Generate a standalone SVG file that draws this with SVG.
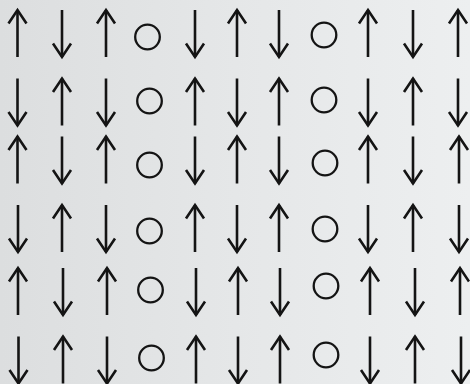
<svg xmlns="http://www.w3.org/2000/svg" xmlns:xlink="http://www.w3.org/1999/xlink" width="470" height="384" viewBox="0 0 470 384">
<defs>
<linearGradient id="bg" x1="0" y1="0" x2="1" y2="0">
<stop offset="0" stop-color="#dcdedf"/>
<stop offset="0.5" stop-color="#e5e7e8"/>
<stop offset="1" stop-color="#edeff0"/>
</linearGradient>
<g id="up"><line x1="0" y1="-23.5" x2="0" y2="23.5"/><polyline points="-9,-10 0,-23.5 9,-10"/></g>
<g id="dn"><line x1="0" y1="-23.5" x2="0" y2="23.5"/><polyline points="-9,10 0,23.5 9,10"/></g>
</defs>
<style>
.s{fill:none;stroke:#141414;stroke-width:2.6;stroke-linecap:butt;stroke-linejoin:miter}
.c{fill:none;stroke:#141414;stroke-width:2.3}
</style>
<rect width="470" height="384" fill="url(#bg)"/>
<g class="s">
<g id="r1">
<use id="r1c1" href="#up" x="17.5" y="33.5"/>
<use id="r1c2" href="#dn" x="62" y="33.5"/>
<use id="r1c3" href="#up" x="106" y="33.5"/>
<circle id="r1c4" class="c" cx="147.5" cy="37" r="12.3"/>
<use id="r1c5" href="#dn" x="195" y="33.5"/>
<use id="r1c6" href="#up" x="237" y="33.5"/>
<use id="r1c7" href="#dn" x="279" y="33.5"/>
<circle id="r1c8" class="c" cx="324" cy="35" r="12.3"/>
<use id="r1c9" href="#up" x="368" y="33.5"/>
<use id="r1c10" href="#dn" x="413" y="33.5"/>
<use id="r1c11" href="#up" x="458" y="33.5"/>
</g>
<g id="r2">
<use id="r2c1" href="#dn" x="17.5" y="102"/>
<use id="r2c2" href="#up" x="62" y="102"/>
<use id="r2c3" href="#dn" x="106" y="102"/>
<circle id="r2c4" class="c" cx="149.5" cy="101" r="12.3"/>
<use id="r2c5" href="#up" x="195" y="102"/>
<use id="r2c6" href="#dn" x="237" y="102"/>
<use id="r2c7" href="#up" x="279" y="102"/>
<circle id="r2c8" class="c" cx="324" cy="100" r="12.3"/>
<use id="r2c9" href="#dn" x="368" y="102"/>
<use id="r2c10" href="#up" x="413" y="102"/>
<use id="r2c11" href="#dn" x="458" y="102"/>
</g>
<g id="r3">
<use id="r3c1" href="#up" x="17.5" y="160"/>
<use id="r3c2" href="#dn" x="62" y="160"/>
<use id="r3c3" href="#up" x="106" y="160"/>
<circle id="r3c4" class="c" cx="149.5" cy="165" r="12.3"/>
<use id="r3c5" href="#dn" x="195" y="160"/>
<use id="r3c6" href="#up" x="237" y="160"/>
<use id="r3c7" href="#dn" x="279" y="160"/>
<circle id="r3c8" class="c" cx="325" cy="163" r="12.3"/>
<use id="r3c9" href="#up" x="368" y="160"/>
<use id="r3c10" href="#dn" x="413" y="160"/>
<use id="r3c11" href="#up" x="459" y="160"/>
</g>
<g id="r4">
<use id="r4c1" href="#dn" x="18" y="228.5"/>
<use id="r4c2" href="#up" x="62" y="228.5"/>
<use id="r4c3" href="#dn" x="106" y="228.5"/>
<circle id="r4c4" class="c" cx="149.5" cy="231" r="12.3"/>
<use id="r4c5" href="#up" x="195" y="228.5"/>
<use id="r4c6" href="#dn" x="237" y="228.5"/>
<use id="r4c7" href="#up" x="279" y="228.5"/>
<circle id="r4c8" class="c" cx="325" cy="229" r="12.3"/>
<use id="r4c9" href="#dn" x="368" y="228.5"/>
<use id="r4c10" href="#up" x="413" y="228.5"/>
<use id="r4c11" href="#dn" x="459" y="228.5"/>
</g>
<g id="r5">
<use id="r5c1" href="#up" x="18" y="291.5"/>
<use id="r5c2" href="#dn" x="63" y="291.5"/>
<use id="r5c3" href="#up" x="107" y="291.5"/>
<circle id="r5c4" class="c" cx="150.5" cy="290" r="12.3"/>
<use id="r5c5" href="#dn" x="196" y="291.5"/>
<use id="r5c6" href="#up" x="238" y="291.5"/>
<use id="r5c7" href="#dn" x="280" y="291.5"/>
<circle id="r5c8" class="c" cx="326" cy="286" r="12.3"/>
<use id="r5c9" href="#up" x="370" y="291.5"/>
<use id="r5c10" href="#dn" x="415" y="291.5"/>
<use id="r5c11" href="#up" x="460" y="291.5"/>
</g>
<g id="r6">
<use id="r6c1" href="#dn" x="18.5" y="360"/>
<use id="r6c2" href="#up" x="63" y="360"/>
<use id="r6c3" href="#dn" x="107" y="360"/>
<circle id="r6c4" class="c" cx="151.5" cy="358" r="12.3"/>
<use id="r6c5" href="#up" x="196" y="360"/>
<use id="r6c6" href="#dn" x="238" y="360"/>
<use id="r6c7" href="#up" x="280" y="360"/>
<circle id="r6c8" class="c" cx="326" cy="355" r="12.3"/>
<use id="r6c9" href="#dn" x="370" y="360"/>
<use id="r6c10" href="#up" x="415" y="360"/>
<use id="r6c11" href="#dn" x="461" y="360"/>
</g>
</g>
</svg>
